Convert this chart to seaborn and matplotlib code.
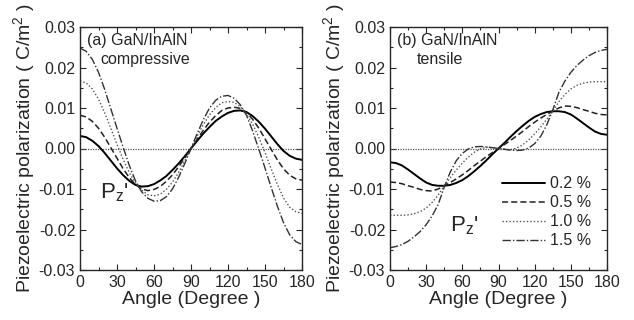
import numpy as np
import pandas as pd
import seaborn as sns
from matplotlib import pyplot as plt
from matplotlib.ticker import MultipleLocator

#%% data (angle in degree, polarization in C/m^2)
angle = list(range(0, 181, 5))
strains = ["0.2 %", "0.5 %", "1.0 %", "1.5 %"]

comp_02 = [0.0031, 0.0028, 0.0019, 0.0006, -0.0011, -0.0030, -0.0049, -0.0066, -0.0080, -0.0090,
           -0.0094, -0.0093, -0.0088, -0.0079, -0.0068, -0.0053, -0.0037, -0.0019, 0.0000,
           0.0019, 0.0037, 0.0053, 0.0068, 0.0079, 0.0088, 0.0093, 0.0094, 0.0090, 0.0080,
           0.0066, 0.0049, 0.0030, 0.0011, -0.0006, -0.0018, -0.0025, -0.0028]
comp_05 = [0.0082, 0.0078, 0.0067, 0.0050, 0.0028, 0.0002, -0.0024, -0.0050, -0.0072, -0.0089,
           -0.0100, -0.0104, -0.0101, -0.0094, -0.0081, -0.0065, -0.0045, -0.0023, 0.0000,
           0.0023, 0.0045, 0.0065, 0.0081, 0.0094, 0.0100, 0.0102, 0.0099, 0.0089, 0.0072,
           0.0050, 0.0024, -0.0002, -0.0028, -0.0050, -0.0066, -0.0075, -0.0078]
comp_10 = [0.0167, 0.0162, 0.0147, 0.0122, 0.0088, 0.0050, 0.0010, -0.0027, -0.0060, -0.0085,
           -0.0103, -0.0114, -0.0117, -0.0113, -0.0101, -0.0083, -0.0059, -0.0030, 0.0000,
           0.0030, 0.0059, 0.0083, 0.0101, 0.0113, 0.0116, 0.0114, 0.0103, 0.0085, 0.0060,
           0.0027, -0.0010, -0.0050, -0.0088, -0.0122, -0.0145, -0.0156, -0.0160]
comp_15 = [0.0248, 0.0240, 0.0220, 0.0188, 0.0146, 0.0098, 0.0050, 0.0003, -0.0042, -0.0080,
           -0.0107, -0.0123, -0.0130, -0.0129, -0.0119, -0.0100, -0.0071, -0.0037, 0.0000,
           0.0037, 0.0071, 0.0100, 0.0119, 0.0129, 0.0131, 0.0124, 0.0108, 0.0082, 0.0043,
           -0.0002, -0.0048, -0.0096, -0.0142, -0.0183, -0.0213, -0.0230, -0.0237]

tens_02 = [-0.0034, -0.0036, -0.0042, -0.0052, -0.0063, -0.0074, -0.0084, -0.0090, -0.0092, -0.0092,
           -0.0090, -0.0085, -0.0078, -0.0068, -0.0056, -0.0043, -0.0029, -0.0014, 0.0000,
           0.0014, 0.0029, 0.0043, 0.0056, 0.0068, 0.0078, 0.0085, 0.0090, 0.0092, 0.0092,
           0.0090, 0.0084, 0.0074, 0.0063, 0.0052, 0.0042, 0.0036, 0.0034]
tens_05 = [-0.0083, -0.0084, -0.0087, -0.0092, -0.0096, -0.0101, -0.0104, -0.0105, -0.0100, -0.0092,
           -0.0084, -0.0075, -0.0065, -0.0054, -0.0042, -0.0031, -0.0020, -0.0010, 0.0000,
           0.0010, 0.0020, 0.0031, 0.0042, 0.0054, 0.0065, 0.0075, 0.0084, 0.0092, 0.0100,
           0.0105, 0.0104, 0.0101, 0.0096, 0.0092, 0.0087, 0.0084, 0.0083]
tens_10 = [-0.0165, -0.0165, -0.0165, -0.0164, -0.0161, -0.0156, -0.0147, -0.0133, -0.0115, -0.0092,
           -0.0072, -0.0053, -0.0036, -0.0021, -0.0009, -0.0001, 0.0003, 0.0002, 0.0000,
           -0.0002, -0.0003, 0.0001, 0.0009, 0.0021, 0.0036, 0.0053, 0.0072, 0.0092, 0.0115,
           0.0133, 0.0147, 0.0156, 0.0161, 0.0164, 0.0165, 0.0165, 0.0165]
tens_15 = [-0.0245, -0.0242, -0.0237, -0.0229, -0.0218, -0.0205, -0.0188, -0.0166, -0.0138, -0.0095,
           -0.0058, -0.0030, -0.0012, -0.0001, 0.0004, 0.0005, 0.0004, 0.0002, 0.0000,
           -0.0002, -0.0004, -0.0005, -0.0004, 0.0001, 0.0012, 0.0030, 0.0058, 0.0095, 0.0138,
           0.0166, 0.0188, 0.0205, 0.0218, 0.0229, 0.0237, 0.0242, 0.0245]

#%% line styles for each strain
line_styles = {
    "0.2 %": dict(linestyle="-", lw=1.4, color="black"),
    "0.5 %": dict(linestyle=(0, (4, 2)), lw=1.1, color="#222222"),
    "1.0 %": dict(linestyle=(0, (1, 1.5)), lw=1.0, color="#555555"),
    "1.5 %": dict(linestyle=(0, (6, 1.5, 1, 1.5)), lw=1.0, color="#333333"),
}


def make_table(series):
    frames = []
    for strain, vals in zip(strains, series):
        frames.append(pd.DataFrame({"angle": angle, "P": vals, "strain": strain}))
    return pd.concat(frames, ignore_index=True)


def draw_panel(ax, table, panel_text, strain_text, strain_x, pz_xy):
    ax.axhline(0, color="#555555", lw=0.9, linestyle=(0, (1, 1)))
    for strain in strains:
        sub = table[table["strain"] == strain]
        sns.lineplot(data=sub, x="angle", y="P", ax=ax, label=strain, **line_styles[strain])
    ax.set_xlim(0, 180)
    ax.set_ylim(-0.03, 0.03)
    ax.xaxis.set_major_locator(MultipleLocator(30))
    ax.xaxis.set_minor_locator(MultipleLocator(15))
    ax.yaxis.set_major_locator(MultipleLocator(0.01))
    ax.yaxis.set_minor_locator(MultipleLocator(0.005))
    ax.set_yticklabels([f"{v:.2f}" for v in ax.get_yticks()])
    ax.tick_params(which="both", direction="in", top=True, right=True, labelsize=11.5)
    ax.tick_params(which="major", length=4, width=0.8)
    ax.tick_params(which="minor", length=2.5, width=0.8)
    ax.set_xlabel("Angle (Degree )", fontsize=14, labelpad=1)
    ax.set_ylabel("Piezoelectric polarization ( C/m$^2$ )", fontsize=14, labelpad=1)
    for sp in ax.spines.values():
        sp.set_linewidth(1.0)
    ax.text(0.03, 0.975, panel_text, transform=ax.transAxes, fontsize=11.5, va="top", ha="left")
    ax.text(strain_x, 0.865, strain_text, transform=ax.transAxes, fontsize=11.5, va="center", ha="left")
    ax.text(pz_xy[0], pz_xy[1], r"P$_\mathrm{z}$'", fontsize=16, va="center", ha="left")


#%%
sns.set_style("ticks")
plt.rcParams["font.family"] = ["Liberation Sans", "DejaVu Sans"]
plt.rcParams["mathtext.fontset"] = "custom"
plt.rcParams["mathtext.rm"] = "Liberation Sans"
plt.rcParams["mathtext.it"] = "Liberation Sans:italic"

fig = plt.figure(figsize=(6.34, 3.2), dpi=100)
ax_a = fig.add_axes([80 / 634, 50 / 320, 222 / 634, 243 / 320])
ax_b = fig.add_axes([390 / 634, 50 / 320, 217 / 634, 243 / 320])

table_comp = make_table([comp_02, comp_05, comp_10, comp_15])
table_tens = make_table([tens_02, tens_05, tens_10, tens_15])

draw_panel(ax_a, table_comp, "(a) GaN/InAlN", "compressive", 0.09, (16, -0.0108))
draw_panel(ax_b, table_tens, "(b) GaN/InAlN", "tensile", 0.123, (50, -0.0190))

ax_a.get_legend().remove()
handles, labels = ax_b.get_legend_handles_labels()
ax_b.legend(handles[:4], labels[:4], loc="upper left", bbox_to_anchor=(0.515, 0.385),
            frameon=False, fontsize=11.5, handlelength=2.7, handletextpad=0.3,
            labelspacing=0.25, borderpad=0, borderaxespad=0)

fig.savefig("out.png", dpi=100)
plt.close()
